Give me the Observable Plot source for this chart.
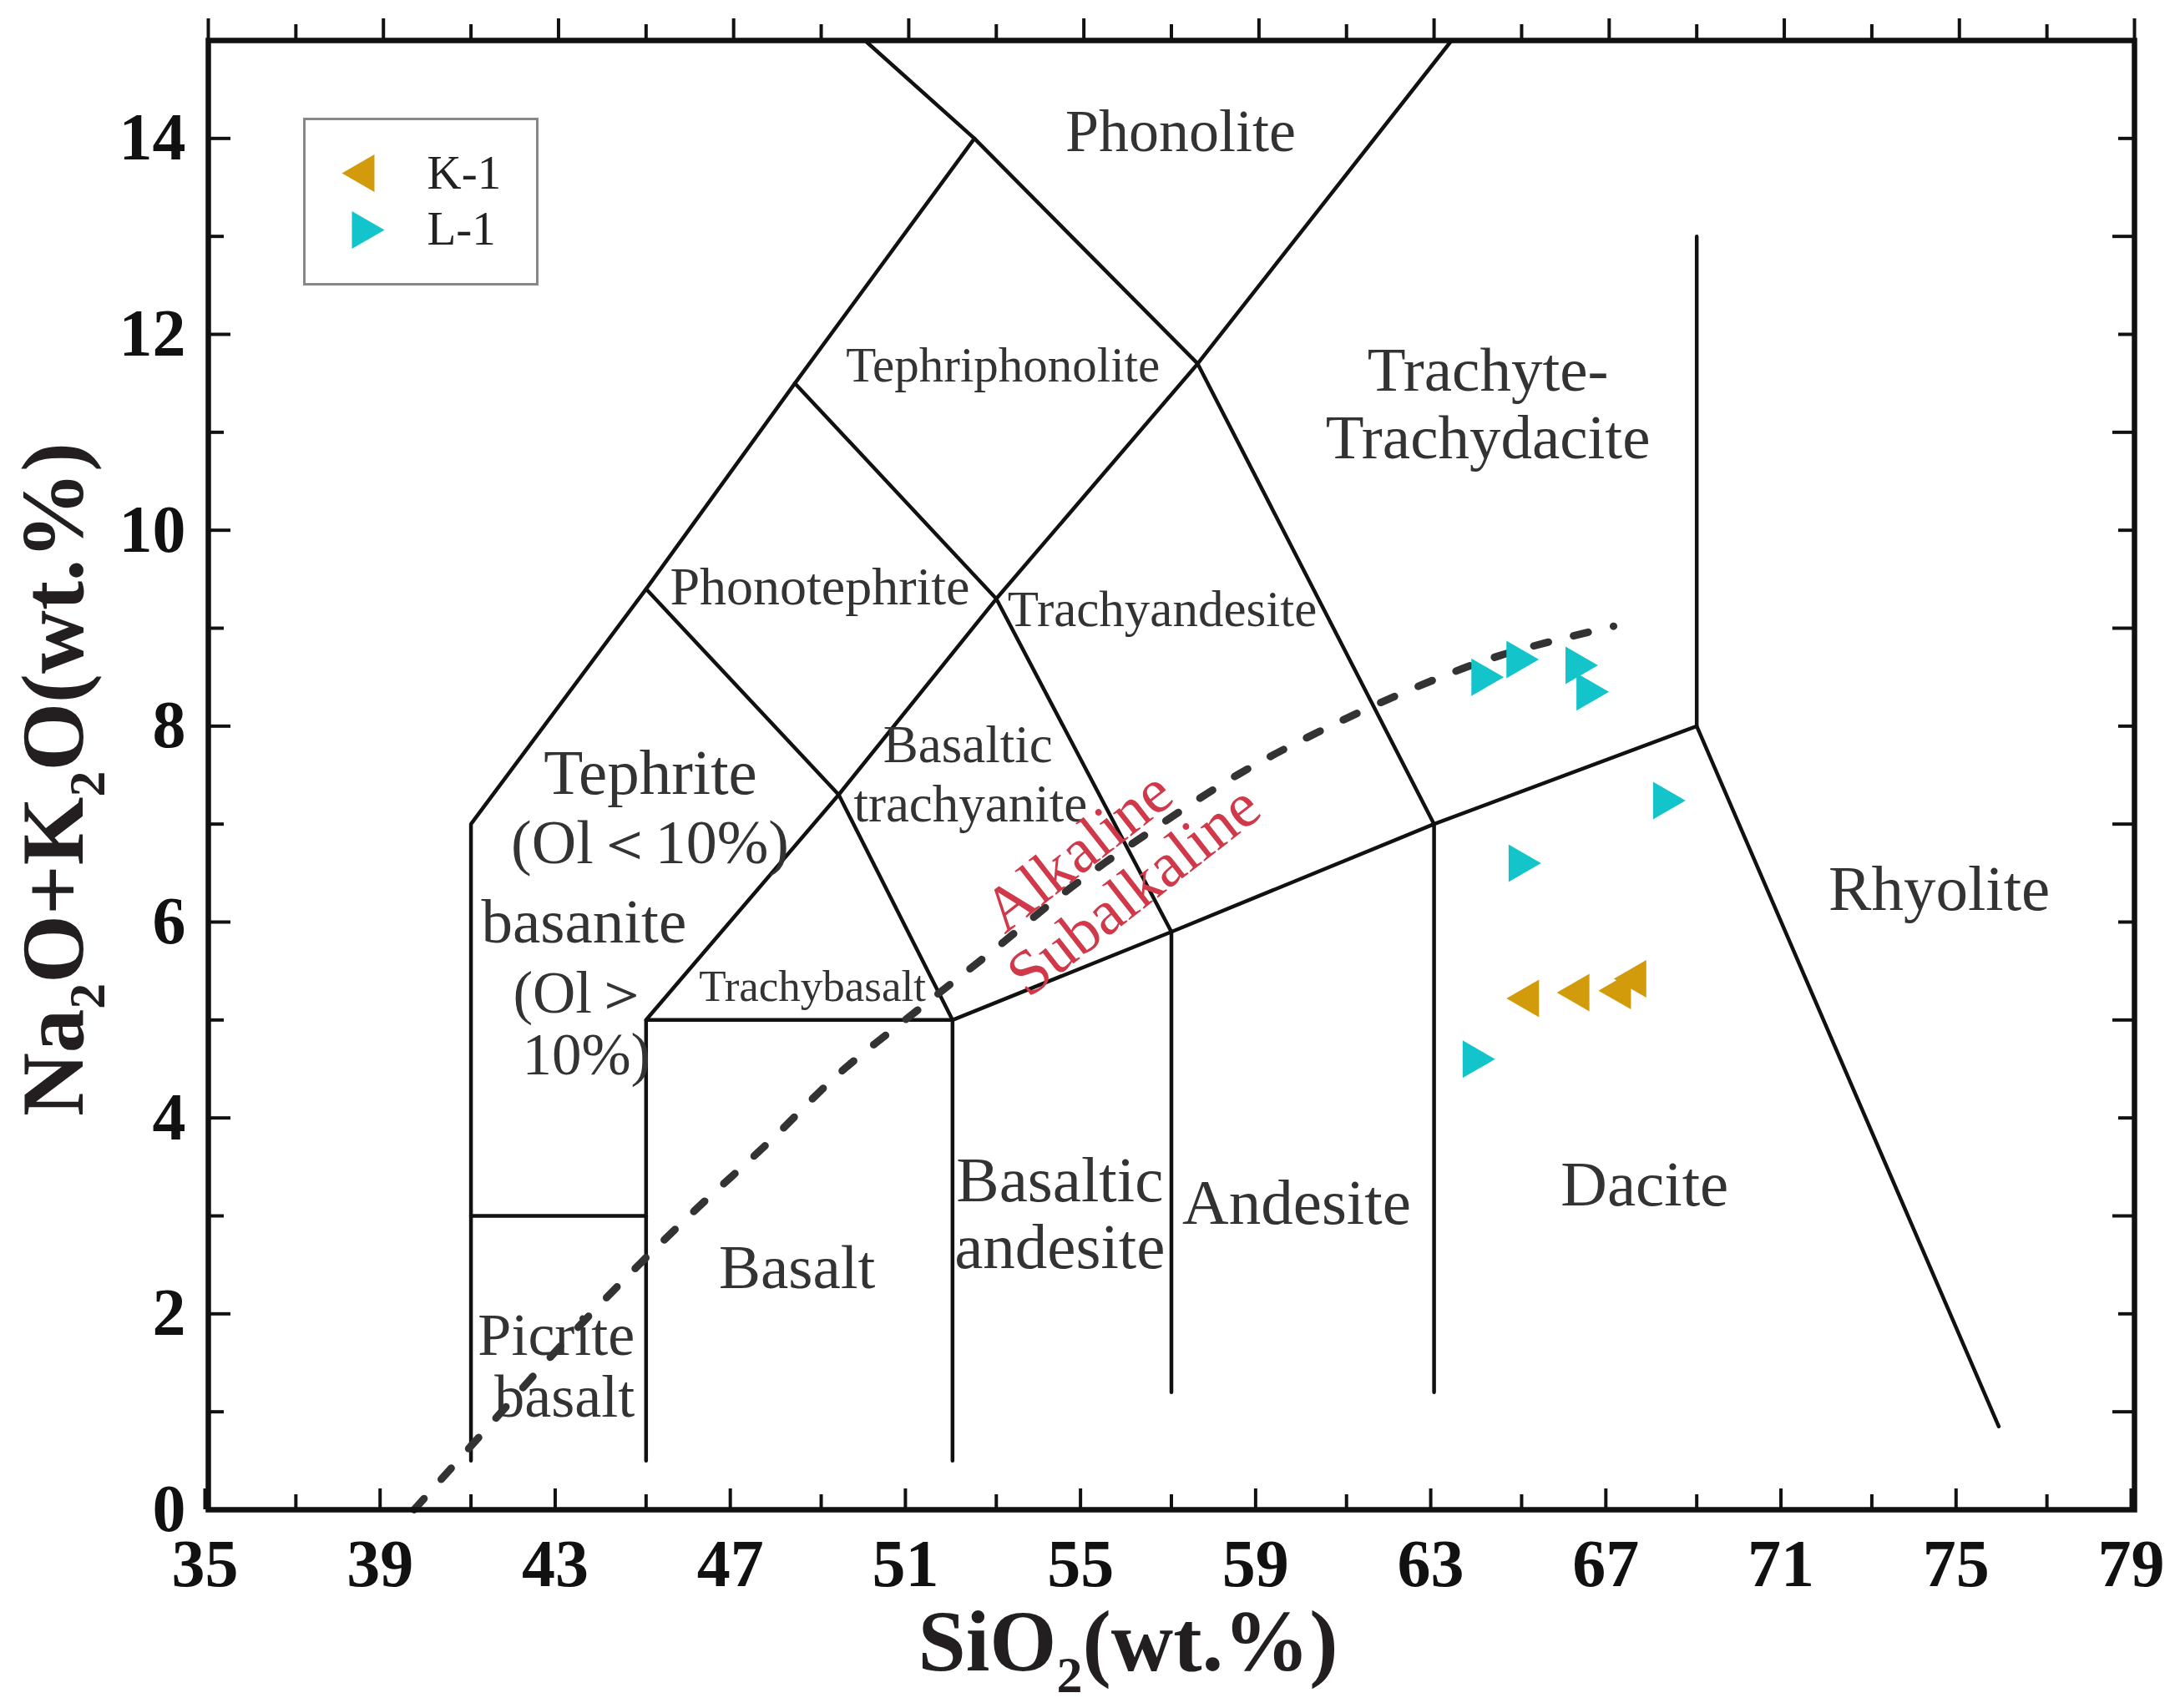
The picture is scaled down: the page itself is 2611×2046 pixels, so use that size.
<!DOCTYPE html>
<html>
<head>
<meta charset="utf-8">
<script src="https://cdn.jsdelivr.net/npm/d3@7"></script>
<script src="https://cdn.jsdelivr.net/npm/@observablehq/plot@0.6"></script>
<style>
  html, body { margin: 0; padding: 0; background: #fff; }
  #chart { position: relative; width: 2611px; height: 2046px; }
</style>
</head>
<body>
<div id="chart"></div>
<script>
// ---------- tick values ----------
const xMajorTicks = [35, 39, 43, 47, 51, 55, 59, 63, 67, 71, 75, 79];
const xMinorTicks = [37, 41, 45, 49, 53, 57, 61, 65, 69, 73, 77];
const yMajorTicks = [0, 2, 4, 6, 8, 10, 12, 14];
const yMinorTicks = [1, 3, 5, 7, 9, 11, 13];

// ---------- TAS field boundaries (SiO2, Na2O+K2O) ----------
const fieldBoundaries = [
  [[50.0, 15], [52.5, 14], [57.6, 11.7], [63.4, 15]],
  [[41, 0.5], [41, 7], [45, 9.4], [48.4, 11.5], [52.5, 14]],
  [[41, 3], [45, 3]],
  [[45, 0.5], [45, 5], [52, 5], [52, 0.5]],
  [[45, 5], [49.4, 7.3], [53, 9.3], [57.6, 11.7]],
  [[57.6, 11.7], [63, 7], [63, 1.2]],
  [[45, 9.4], [49.4, 7.3], [52, 5], [57, 5.9], [63, 7], [69, 8], [69, 13]],
  [[48.4, 11.5], [53, 9.3], [57, 5.9], [57, 1.2]],
  [[69, 8], [75.9, 0.85]]
];

// ---------- Alkaline / Subalkaline divider ----------
const dividerSiO2   = [39.7, 41.4, 42.9, 44.5, 46.1, 47.8, 49.4, 51.2, 52.9, 54.7, 56.6, 58.5, 60.4, 62.5, 64.5, 67.1];
const dividerAlkali = [0.0, 0.85, 1.6, 2.35, 3.05, 3.75, 4.45, 5.1, 5.7, 6.35, 6.95, 7.5, 7.95, 8.38, 8.72, 9.02];

// ---------- samples ----------
const sampleNames = ["K-1", "L-1"];
const k1SiO2   = [65.15, 66.3, 67.25, 67.6];
const k1Alkali = [5.22, 5.28, 5.3, 5.42];
const l1SiO2   = [64.1, 64.9, 66.25, 66.5, 68.25, 64.95, 63.9];
const l1Alkali = [8.5, 8.68, 8.62, 8.35, 7.24, 6.6, 4.6];

// ---------- field names ----------
const fieldNames = ["Phonolite", "Tephriphonolite", "Trachyte-", "Trachydacite", "Phonotephrite",
  "Trachyandesite", "Tephrite", "(Ol＜10%)", "basanite", "Basaltic", "trachyanite", "Trachybasalt",
  "Basaltic", "andesite", "Andesite", "Basalt", "Dacite", "Rhyolite", "Picrite", "basalt"];
const fieldNameSiO2   = [57.21, 53.15, 64.23, 64.23, 48.97, 56.79, 45.10, 45.09, 43.58, 52.35, 52.41, 48.80,
  54.45, 54.45, 59.86, 48.45, 67.81, 74.54, 42.95, 43.14];
const fieldNameAlkali = [14.07, 11.68, 11.63, 10.94, 9.42, 9.19, 7.52, 6.80, 6.0, 7.8, 7.2, 5.34,
  3.36, 2.68, 3.13, 2.47, 3.32, 6.33, 1.78, 1.15];
// left-aligned continuation lines of "basanite (Ol>10%)"
const leftNames  = ["(Ol＞", "10%)"];
const leftSiO2   = [41.96, 42.17];
const leftAlkali = [5.27, 4.64];
// series divider labels
const seriesNames  = ["Alkaline", "Subalkaline"];
const seriesSiO2   = [54.87, 56.14];
const seriesAlkali = [6.72, 6.32];

// ---------- styles ----------
const SERIF = "'Liberation Serif', 'Times New Roman', serif";
const fieldFontSize = {
  "Phonolite": 72, "Tephriphonolite": 59, "Trachyte-": 75, "Trachydacite": 75, "Phonotephrite": 64,
  "Trachyandesite": 61, "Tephrite": 77, "(Ol＜10%)": 74, "basanite": 75, "trachyanite": 63,
  "Trachybasalt": 53, "andesite": 77, "Andesite": 77, "Basalt": 75, "Dacite": 77, "Rhyolite": 77,
  "Picrite": 72, "basalt": 72
};
const sizeOf = (d) => d.name === "Basaltic" ? (d.alk > 5 ? 63 : 77) : fieldFontSize[d.name];
const sampleColor = { "K-1": "#D29B0B", "L-1": "#14C4CB" };

// ---------- tables ----------
const boundaryRows = fieldBoundaries.flatMap((seg, i) => seg.map(([x, y]) => ({ x, y, seg: i })));
const dividerRows = dividerSiO2.map((x, i) => ({ x, y: dividerAlkali[i] }));
const samples = [
  ...k1SiO2.map((x, i) => ({ sample: "K-1", x, y: k1Alkali[i] })),
  ...l1SiO2.map((x, i) => ({ sample: "L-1", x, y: l1Alkali[i] }))
];
const fieldRows = fieldNames.map((name, i) => ({ name, x: fieldNameSiO2[i], alk: fieldNameAlkali[i] }));
const leftRows = leftNames.map((name, i) => ({ name, x: leftSiO2[i], alk: leftAlkali[i] }));
const seriesRows = seriesNames.map((name, i) => ({ name, x: seriesSiO2[i], alk: seriesAlkali[i] }));

const W = 2611, H = 2046;
const mL = 249, mR = 55, mT = 48, mB = 238;

const axisText = { fontSize: 80, fontWeight: "bold", fontFamily: SERIF, fill: "#111", stroke: "#111", strokeWidth: 4 };

const plot = Plot.plot({
  width: W,
  height: H,
  marginLeft: mL, marginRight: mR, marginTop: mT, marginBottom: mB,
  style: { background: "#fff", fontFamily: SERIF, overflow: "visible" },
  x: { domain: [35, 79] },
  y: { domain: [0, 15] },
  marks: [
    // field boundaries
    Plot.line(boundaryRows, { x: "x", y: "y", z: "seg", stroke: "#111", strokeWidth: 4.5, strokeLinejoin: "miter" }),
    // alkaline / subalkaline divider
    Plot.line(dividerRows, { x: "x", y: "y", curve: "catmull-rom", stroke: "#333", strokeWidth: 9, strokeDasharray: "18,31" }),
    // field names
    Plot.text(fieldRows, { x: "x", y: "alk", text: "name", fontSize: sizeOf, fontFamily: SERIF, fill: "#333" }),
    Plot.text(leftRows, { x: "x", y: "alk", text: "name", textAnchor: "start", fontSize: 71, fontFamily: SERIF, fill: "#333" }),
    Plot.text(seriesRows, { x: "x", y: "alk", text: "name", rotate: -38, fontSize: 76, fontFamily: SERIF, fill: "#D0394A" }),
    // samples
    Plot.dot(samples, {
      x: "x", y: "y", symbol: "triangle", r: 16.7,
      rotate: d => d.sample === "K-1" ? -90 : 90,
      fill: d => sampleColor[d.sample], stroke: "none"
    }),
    // axes: bottom
    Plot.axisX(xMajorTicks, { anchor: "bottom", tickSize: -25, tickPadding: 60, dx: -4, label: null, ...axisText, tickFormat: d => String(d) }),
    Plot.axisX(xMinorTicks, { anchor: "bottom", tickSize: -18, label: null, tickFormat: () => "", stroke: "#111", strokeWidth: 4 }),
    // top (outward ticks)
    Plot.axisX(xMajorTicks, { anchor: "top", tickSize: 27, label: null, tickFormat: () => "", stroke: "#111", strokeWidth: 4 }),
    Plot.axisX(xMinorTicks, { anchor: "top", tickSize: 20, label: null, tickFormat: () => "", stroke: "#111", strokeWidth: 4 }),
    // left
    Plot.axisY(yMajorTicks, { anchor: "left", tickSize: -27, tickPadding: 54, label: null, ...axisText, tickFormat: d => String(d) }),
    Plot.axisY(yMinorTicks, { anchor: "left", tickSize: -19, label: null, tickFormat: () => "", stroke: "#111", strokeWidth: 4 }),
    // right
    Plot.axisY(yMajorTicks, { anchor: "right", tickSize: -20, label: null, tickFormat: () => "", stroke: "#111", strokeWidth: 4 }),
    Plot.axisY(yMinorTicks, { anchor: "right", tickSize: -27, label: null, tickFormat: () => "", stroke: "#111", strokeWidth: 4 }),
    // frame
    Plot.frame({ stroke: "#111", strokeWidth: 6.5 }),
    // axis titles
    Plot.text(["SiO2(wt.%)"], { frameAnchor: "bottom", lineAnchor: "middle", textAnchor: "middle", dx: -52, dy: 160, fontSize: 103, fontWeight: "bold", fontFamily: SERIF, fill: "#231f20" }),
    Plot.text(["Na2O+K2O(wt.%)"], { frameAnchor: "left", lineAnchor: "middle", textAnchor: "middle", rotate: -90, dx: -184, dy: 5, fontSize: 105, fontWeight: "bold", fontFamily: SERIF, fill: "#231f20" }),
    // legend
    Plot.frame({ stroke: "#888", strokeWidth: 3, insetLeft: 115, insetTop: 94, insetRight: 1913, insetBottom: 1468 }),
    Plot.dot([sampleNames[0]], { frameAnchor: "top-left", dx: 186, dy: 159, symbol: "triangle", r: 16.7, rotate: -90, fill: sampleColor["K-1"] }),
    Plot.dot([sampleNames[1]], { frameAnchor: "top-left", dx: 185, dy: 227, symbol: "triangle", r: 16.7, rotate: 90, fill: sampleColor["L-1"] }),
    Plot.text([sampleNames[0]], { frameAnchor: "top-left", lineAnchor: "middle", dx: 262, dy: 159, text: d => d, textAnchor: "start", fontSize: 57, fontFamily: SERIF, fill: "#222" }),
    Plot.text([sampleNames[1]], { frameAnchor: "top-left", lineAnchor: "middle", dx: 262, dy: 226, text: d => d, textAnchor: "start", fontSize: 57, fontFamily: SERIF, fill: "#222" })
  ]
});

// subscripts in axis titles
function subscriptify(svg, content, parts, shift) {
  svg.querySelectorAll("text").forEach(t => {
    if (t.textContent !== content) return;
    t.textContent = "";
    let lowered = false;
    for (const [s, sub] of parts) {
      const ts = document.createElementNS("http://www.w3.org/2000/svg", "tspan");
      ts.textContent = s;
      if (sub) { ts.setAttribute("font-size", "62"); ts.setAttribute("dy", shift); lowered = true; }
      else if (lowered) { ts.setAttribute("dy", -shift); lowered = false; }
      t.appendChild(ts);
    }
  });
}
subscriptify(plot, "SiO2(wt.%)", [["SiO", false], ["2", true], ["(wt.%)", false]], 26);
subscriptify(plot, "Na2O+K2O(wt.%)", [["Na", false], ["2", true], ["O+K", false], ["2", true], ["O(wt.%)", false]], 26);

document.getElementById("chart").appendChild(plot);
</script>
</body>
</html>
